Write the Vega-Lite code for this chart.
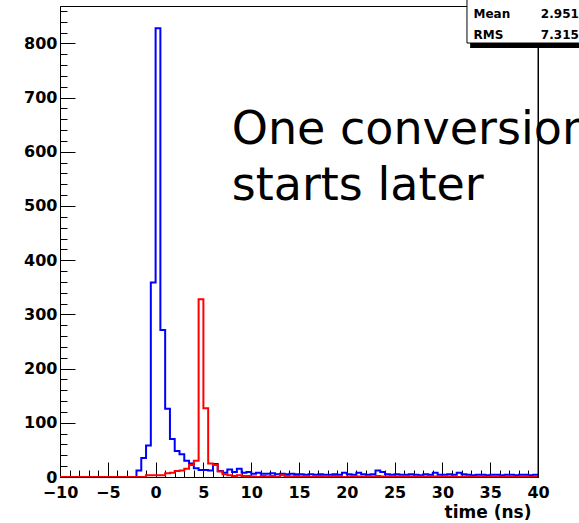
{
  "$schema": "https://vega.github.io/schema/vega-lite/v6.json",
  "autosize": "none",
  "width": 478,
  "height": 471,
  "padding": {"left": 60, "top": 6, "right": 41, "bottom": 46},
  "background": "white",
  "view": {"stroke": "black", "strokeWidth": 1},
  "config": {
    "font": "DejaVu Sans",
    "axis": {
      "domainColor": "black",
      "domainWidth": 1,
      "tickColor": "black",
      "tickWidth": 1,
      "grid": false,
      "labelColor": "black",
      "labelFont": "DejaVu Sans",
      "labelFontWeight": "bold",
      "titleColor": "black",
      "titleFont": "DejaVu Sans",
      "titleFontWeight": "bold"
    }
  },
  "datasets": {
    "blue": [
      {"t": -10, "n": 0}, {"t": -9.5, "n": 0}, {"t": -9, "n": 0}, {"t": -8.5, "n": 0}, {"t": -8, "n": 0},
      {"t": -7.5, "n": 0}, {"t": -7, "n": 0}, {"t": -6.5, "n": 0}, {"t": -6, "n": 0}, {"t": -5.5, "n": 0},
      {"t": -5, "n": 0}, {"t": -4.5, "n": 0}, {"t": -4, "n": 0}, {"t": -3.5, "n": 0}, {"t": -3, "n": 0},
      {"t": -2.5, "n": 0}, {"t": -2, "n": 12}, {"t": -1.5, "n": 35}, {"t": -1, "n": 58}, {"t": -0.5, "n": 359},
      {"t": 0, "n": 828}, {"t": 0.5, "n": 271}, {"t": 1, "n": 126}, {"t": 1.5, "n": 70}, {"t": 2, "n": 48},
      {"t": 2.5, "n": 42}, {"t": 3, "n": 30}, {"t": 3.5, "n": 25}, {"t": 4, "n": 16}, {"t": 4.5, "n": 13},
      {"t": 5, "n": 13}, {"t": 5.5, "n": 12}, {"t": 6, "n": 24}, {"t": 6.5, "n": 11}, {"t": 7, "n": 8},
      {"t": 7.5, "n": 14}, {"t": 8, "n": 9}, {"t": 8.5, "n": 15}, {"t": 9, "n": 8}, {"t": 9.5, "n": 9},
      {"t": 10, "n": 6}, {"t": 10.5, "n": 8}, {"t": 11, "n": 6}, {"t": 11.5, "n": 6}, {"t": 12, "n": 7},
      {"t": 12.5, "n": 5}, {"t": 13, "n": 6}, {"t": 13.5, "n": 5}, {"t": 14, "n": 6}, {"t": 14.5, "n": 5},
      {"t": 15, "n": 5}, {"t": 15.5, "n": 4}, {"t": 16, "n": 5}, {"t": 16.5, "n": 4}, {"t": 17, "n": 5},
      {"t": 17.5, "n": 4}, {"t": 18, "n": 4}, {"t": 18.5, "n": 5}, {"t": 19, "n": 4}, {"t": 19.5, "n": 8},
      {"t": 20, "n": 5}, {"t": 20.5, "n": 4}, {"t": 21, "n": 8}, {"t": 21.5, "n": 5}, {"t": 22, "n": 4},
      {"t": 22.5, "n": 5}, {"t": 23, "n": 12}, {"t": 23.5, "n": 9}, {"t": 24, "n": 5}, {"t": 24.5, "n": 4},
      {"t": 25, "n": 5}, {"t": 25.5, "n": 4}, {"t": 26, "n": 4}, {"t": 26.5, "n": 5}, {"t": 27, "n": 4},
      {"t": 27.5, "n": 3}, {"t": 28, "n": 5}, {"t": 28.5, "n": 4}, {"t": 29, "n": 8}, {"t": 29.5, "n": 4},
      {"t": 30, "n": 4}, {"t": 30.5, "n": 5}, {"t": 31, "n": 4}, {"t": 31.5, "n": 8}, {"t": 32, "n": 5},
      {"t": 32.5, "n": 4}, {"t": 33, "n": 3}, {"t": 33.5, "n": 4}, {"t": 34, "n": 4}, {"t": 34.5, "n": 3},
      {"t": 35, "n": 4}, {"t": 35.5, "n": 4}, {"t": 36, "n": 3}, {"t": 36.5, "n": 4}, {"t": 37, "n": 4},
      {"t": 37.5, "n": 3}, {"t": 38, "n": 4}, {"t": 38.5, "n": 4}, {"t": 39, "n": 3}, {"t": 39.5, "n": 4},
      {"t": 40, "n": 4}
    ],
    "red": [
      {"t": -10, "n": 0}, {"t": -9.5, "n": 0}, {"t": -9, "n": 0}, {"t": -8.5, "n": 0}, {"t": -8, "n": 0},
      {"t": -7.5, "n": 0}, {"t": -7, "n": 0}, {"t": -6.5, "n": 0}, {"t": -6, "n": 0}, {"t": -5.5, "n": 0},
      {"t": -5, "n": 0}, {"t": -4.5, "n": 0}, {"t": -4, "n": 0}, {"t": -3.5, "n": 0}, {"t": -3, "n": 0},
      {"t": -2.5, "n": 0}, {"t": -2, "n": 0}, {"t": -1.5, "n": 0}, {"t": -1, "n": 3}, {"t": -0.5, "n": 3},
      {"t": 0, "n": 3}, {"t": 0.5, "n": 3}, {"t": 1, "n": 7}, {"t": 1.5, "n": 8}, {"t": 2, "n": 11},
      {"t": 2.5, "n": 12}, {"t": 3, "n": 15}, {"t": 3.5, "n": 22}, {"t": 4, "n": 30}, {"t": 4.5, "n": 328},
      {"t": 5, "n": 127}, {"t": 5.5, "n": 25}, {"t": 6, "n": 22}, {"t": 6.5, "n": 10}, {"t": 7, "n": 5},
      {"t": 7.5, "n": 3}, {"t": 8, "n": 2}, {"t": 8.5, "n": 3}, {"t": 9, "n": 2}, {"t": 9.5, "n": 2},
      {"t": 10, "n": 1}, {"t": 10.5, "n": 0}, {"t": 11, "n": 2}, {"t": 11.5, "n": 1}, {"t": 12, "n": 2},
      {"t": 12.5, "n": 0}, {"t": 13, "n": 3}, {"t": 13.5, "n": 2}, {"t": 14, "n": 1}, {"t": 14.5, "n": 2},
      {"t": 15, "n": 1}, {"t": 15.5, "n": 2}, {"t": 16, "n": 0}, {"t": 16.5, "n": 1}, {"t": 17, "n": 2},
      {"t": 17.5, "n": 1}, {"t": 18, "n": 1}, {"t": 18.5, "n": 2}, {"t": 19, "n": 1}, {"t": 19.5, "n": 0},
      {"t": 20, "n": 1}, {"t": 20.5, "n": 2}, {"t": 21, "n": 1}, {"t": 21.5, "n": 1}, {"t": 22, "n": 0},
      {"t": 22.5, "n": 1}, {"t": 23, "n": 2}, {"t": 23.5, "n": 1}, {"t": 24, "n": 1}, {"t": 24.5, "n": 0},
      {"t": 25, "n": 1}, {"t": 25.5, "n": 1}, {"t": 26, "n": 2}, {"t": 26.5, "n": 1}, {"t": 27, "n": 0},
      {"t": 27.5, "n": 1}, {"t": 28, "n": 1}, {"t": 28.5, "n": 2}, {"t": 29, "n": 1}, {"t": 29.5, "n": 1},
      {"t": 30, "n": 0}, {"t": 30.5, "n": 1}, {"t": 31, "n": 1}, {"t": 31.5, "n": 0}, {"t": 32, "n": 1},
      {"t": 32.5, "n": 1}, {"t": 33, "n": 0}, {"t": 33.5, "n": 1}, {"t": 34, "n": 1}, {"t": 34.5, "n": 0},
      {"t": 35, "n": 1}, {"t": 35.5, "n": 1}, {"t": 36, "n": 0}, {"t": 36.5, "n": 1}, {"t": 37, "n": 1},
      {"t": 37.5, "n": 0}, {"t": 38, "n": 1}, {"t": 38.5, "n": 1}, {"t": 39, "n": 0}, {"t": 39.5, "n": 1},
      {"t": 40, "n": 1}
    ],
    "note": [{"line1": "One conversion", "line2": "starts later"}],
    "stats": [{"mean": "2.951", "rms": "7.315"}]
  },
  "resolve": {"axis": {"x": "independent", "y": "independent"}},
  "layer": [
    {
      "data": {"name": "blue"},
      "mark": {"type": "line", "interpolate": "step-after", "stroke": "#0000ff", "strokeWidth": 2, "clip": true},
      "encoding": {
        "x": {
          "field": "t", "type": "quantitative",
          "scale": {"domain": [-10, 40], "nice": false, "zero": false},
          "axis": {
            "orient": "bottom",
            "title": "time (ns)",
            "titleAlign": "right",
            "titleBaseline": "alphabetic",
            "titleX": 471,
            "titleY": 40,
            "titleFontSize": 17,
            "values": [-10, -5, 0, 5, 10, 15, 20, 25, 30, 35, 40],
            "labelFontSize": 16,
            "labelPadding": 22,
            "labelFlush": false,
            "labelOverlap": false,
            "tickSize": -15
          }
        },
        "y": {
          "field": "n", "type": "quantitative",
          "scale": {"domain": [0, 869], "nice": false, "zero": true},
          "axis": {
            "orient": "left",
            "title": null,
            "values": [0, 100, 200, 300, 400, 500, 600, 700, 800],
            "labelFontSize": 16,
            "labelPadding": 18,
            "labelFlush": false,
            "labelOverlap": false,
            "tickSize": -15
          }
        }
      }
    },
    {
      "data": {"name": "red"},
      "mark": {"type": "line", "interpolate": "step-after", "stroke": "#ff0000", "strokeWidth": 2, "clip": true},
      "encoding": {
        "x": {
          "field": "t", "type": "quantitative",
          "axis": {
            "orient": "bottom",
            "title": null,
            "domain": false,
            "labels": false,
            "values": [-10,-9,-8,-7,-6,-5,-4,-3,-2,-1,0,1,2,3,4,5,6,7,8,9,10,11,12,13,14,15,16,17,18,19,20,21,22,23,24,25,26,27,28,29,30,31,32,33,34,35,36,37,38,39,40],
            "tickSize": -7
          }
        },
        "y": {
          "field": "n", "type": "quantitative",
          "axis": {
            "orient": "left",
            "title": null,
            "domain": false,
            "labels": false,
            "values": [0,20,40,60,80,100,120,140,160,180,200,220,240,260,280,300,320,340,360,380,400,420,440,460,480,500,520,540,560,580,600,620,640,660,680,700,720,740,760,780,800,820,840,860],
            "tickSize": -7
          }
        }
      }
    },
    {
      "data": {"name": "note"},
      "mark": {"type": "text", "align": "left", "baseline": "alphabetic", "font": "DejaVu Sans", "fontSize": 46, "color": "black"},
      "encoding": {
        "x": {"datum": 7.96, "type": "quantitative", "axis": null},
        "y": {"datum": 614, "type": "quantitative", "axis": null},
        "text": {"field": "line1"}
      }
    },
    {
      "data": {"name": "note"},
      "mark": {"type": "text", "align": "left", "baseline": "alphabetic", "font": "DejaVu Sans", "fontSize": 46, "color": "black"},
      "encoding": {
        "x": {"datum": 7.96, "type": "quantitative", "axis": null},
        "y": {"datum": 511, "type": "quantitative", "axis": null},
        "text": {"field": "line2"}
      }
    },
    {
      "data": {"name": "stats"},
      "mark": {"type": "rule", "stroke": "black", "strokeWidth": 1},
      "encoding": {
        "x": {"datum": 40, "type": "quantitative", "axis": null},
        "y": {"datum": 0, "type": "quantitative", "axis": null},
        "y2": {"datum": 869}
      }
    },
    {
      "data": {"name": "stats"},
      "mark": {"type": "rect", "fill": "black", "clip": false},
      "encoding": {
        "x": {"datum": 32.9, "type": "quantitative", "axis": null},
        "x2": {"datum": 46.5},
        "y": {"datum": 880, "type": "quantitative", "axis": null},
        "y2": {"datum": 791.5}
      }
    },
    {
      "data": {"name": "stats"},
      "mark": {"type": "rect", "fill": "white", "stroke": "black", "strokeWidth": 1, "clip": false},
      "encoding": {
        "x": {"datum": 32.57, "type": "quantitative", "axis": null},
        "x2": {"datum": 46},
        "y": {"datum": 885, "type": "quantitative", "axis": null},
        "y2": {"datum": 800.7}
      }
    },
    {
      "data": {"name": "stats"},
      "mark": {"type": "text", "align": "left", "baseline": "middle", "font": "DejaVu Sans", "fontWeight": "bold", "fontSize": 12, "color": "black", "clip": false},
      "encoding": {
        "x": {"datum": 33.25, "type": "quantitative", "axis": null},
        "y": {"datum": 854, "type": "quantitative", "axis": null},
        "text": {"value": "Mean"}
      }
    },
    {
      "data": {"name": "stats"},
      "mark": {"type": "text", "align": "left", "baseline": "middle", "font": "DejaVu Sans", "fontWeight": "bold", "fontSize": 12, "color": "black", "clip": false},
      "encoding": {
        "x": {"datum": 33.25, "type": "quantitative", "axis": null},
        "y": {"datum": 815.5, "type": "quantitative", "axis": null},
        "text": {"value": "RMS"}
      }
    },
    {
      "data": {"name": "stats"},
      "mark": {"type": "text", "align": "left", "baseline": "middle", "font": "DejaVu Sans", "fontWeight": "bold", "fontSize": 12, "color": "black", "clip": false},
      "encoding": {
        "x": {"datum": 40.3, "type": "quantitative", "axis": null},
        "y": {"datum": 854, "type": "quantitative", "axis": null},
        "text": {"field": "mean"}
      }
    },
    {
      "data": {"name": "stats"},
      "mark": {"type": "text", "align": "left", "baseline": "middle", "font": "DejaVu Sans", "fontWeight": "bold", "fontSize": 12, "color": "black", "clip": false},
      "encoding": {
        "x": {"datum": 40.3, "type": "quantitative", "axis": null},
        "y": {"datum": 815.5, "type": "quantitative", "axis": null},
        "text": {"field": "rms"}
      }
    }
  ]
}
